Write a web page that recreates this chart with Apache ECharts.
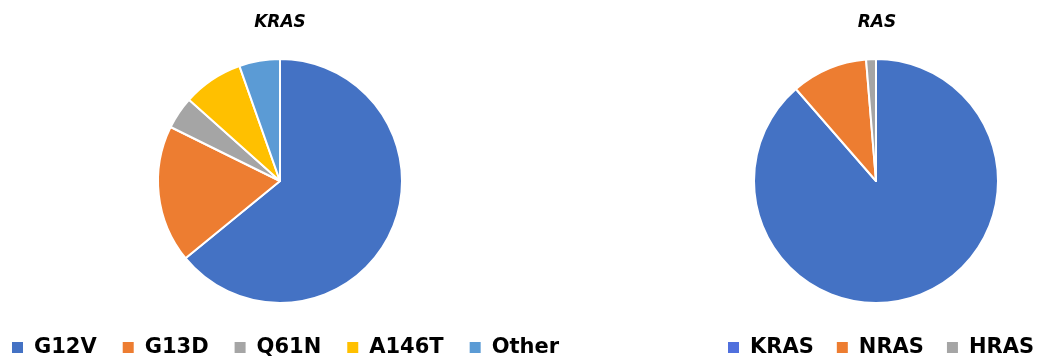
<!DOCTYPE html>
<html>
<head>
<meta charset="utf-8">
<script src="https://cdn.jsdelivr.net/npm/echarts@6/dist/echarts.min.js"></script>
<style>
  html, body { margin: 0; padding: 0; background: #fff; }
  #main { width: 1040px; height: 358px; }
</style>
</head>
<body>
<div id="main"></div>
<script>
// 数据
var krasNames = ['G12V', 'G13D', 'Q61N', 'A146T', 'Other'];
var krasValues = [64.1, 18.2, 4.3, 8.0, 5.4];
var rasNames = ['KRAS', 'NRAS', 'HRAS'];
var rasValues = [88.6, 10.1, 1.3];
var krasColors = ['#4472C4', '#ED7D31', '#A5A5A5', '#FFC000', '#5B9BD5'];
var rasColors = ['#4472C4', '#ED7D31', '#A5A5A5'];

function toData(names, values, colors) {
    return names.map(function (n, i) {
        return { name: n, value: values[i], itemStyle: { color: colors[i] } };
    });
}

var chart = echarts.init(document.getElementById('main'));

// 标题和图例的文字样式
var titleStyle = { fontFamily: 'DejaVu Sans', fontWeight: 'bold', fontStyle: 'italic', fontSize: 17, color: '#000' };
var legendText = { fontFamily: 'DejaVu Sans', fontWeight: 'bold', fontSize: 21, color: '#000', padding: [0, 0, 0, 5] };

var option = {
    animation: false,
    title: [
        { text: 'KRAS', left: 275, top: 9, textAlign: 'center', textStyle: titleStyle },
        { text: 'RAS', left: 872, top: 9, textAlign: 'center', textStyle: titleStyle }
    ],
    legend: [
        {
            data: krasNames, left: 10, top: 337, width: 600, padding: 0, icon: 'rect',
            itemWidth: 13, itemHeight: 13, itemGap: 24, textStyle: legendText
        },
        {
            data: rasNames, left: 726, top: 337, width: 320, padding: 0, icon: 'rect',
            itemWidth: 13, itemHeight: 13, itemGap: 21, textStyle: legendText
        }
    ],
    series: [
        {
            name: 'KRAS', type: 'pie', center: [280, 181], radius: 122,
            startAngle: 90, clockwise: true, label: { show: false },
            itemStyle: { borderColor: '#fff', borderWidth: 2 },
            data: toData(krasNames, krasValues, krasColors)
        },
        {
            name: 'RAS', type: 'pie', center: [876, 181], radius: 122,
            startAngle: 90, clockwise: true, label: { show: false },
            itemStyle: { borderColor: '#fff', borderWidth: 2 },
            data: toData(rasNames, rasValues, rasColors)
        }
    ]
};

chart.setOption(option);
</script>
</body>
</html>
